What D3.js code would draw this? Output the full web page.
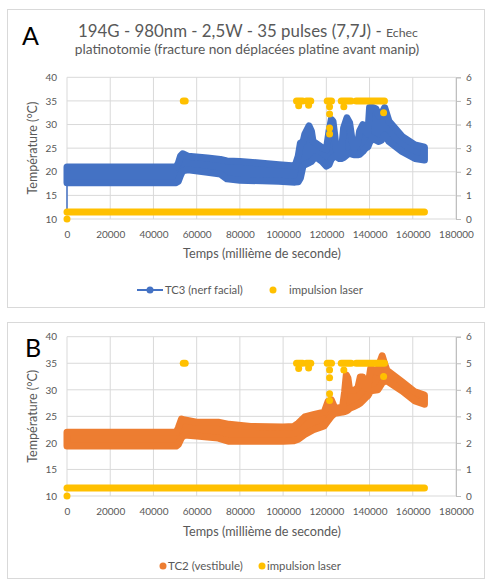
<!DOCTYPE html>
<html><head><meta charset="utf-8">
<script src="https://cdn.jsdelivr.net/npm/d3@7"></script>
<style>body{margin:0;background:#fff} text{font-family:Lato,'Open Sans',sans-serif}</style>
</head><body>
<svg id="c" width="486" height="581"></svg>
<script>
// ---------- data ----------
const xTicks = [0,20000,40000,60000,80000,100000,120000,140000,160000,180000];
const yTicks = [10,15,20,25,30,35,40];
const y2Ticks = [0,1,2,3,4,5,6];

const tc3Time = [0,50500,51500,52500,53500,56000,65000,71000,74000,80000,98000,105500,107000,108000,109200,110000,112000,113100,113850,115000,118000,120000,121230,122300,123080,123850,124600,126000,127000,128000,129540,130770,132000,133080,134500,135400,136900,138150,139230,140000,141500,143000,144300,145500,147000,149000,155000,161000,165400];
const tc3Lo = [17.7,17.7,18.0,19.2,20.2,20.4,19.9,19.5,18.5,18.2,18.0,17.8,17.9,18.7,21.2,21.5,21.9,22.2,22.6,23.2,22.2,21.2,21.5,22.7,23.0,23.3,23.2,22.8,22.8,23.0,23.6,23.9,23.7,23.6,23.6,23.7,24.3,25.0,25.3,26.2,27.1,26.7,26.4,26.7,27.8,26.4,24.3,22.8,22.5];
const tc3Hi = [21.0,21.0,21.8,23.3,23.8,23.3,22.9,22.6,22.3,22.2,21.5,21.2,23.3,26.1,26.3,27.9,29.7,28.6,26.4,26.1,25.1,24.7,28.6,31.1,30.7,27.9,24.7,24.0,24.5,29.3,31.4,30.4,26.4,25.0,26.0,28.6,30.0,28.6,28.0,33.6,33.6,33.3,31.8,32.2,33.6,30.7,27.5,25.7,25.2];
const tc3Start = 11.3;

const tc2Time = [0,50500,51500,53000,54500,60000,70000,75000,85000,100000,105000,107000,110000,114000,119000,120800,122300,124000,127500,128460,129230,130000,130770,133000,134600,135700,136900,138150,139200,140500,143800,144600,145850,146900,148000,155000,161000,165400];
const tc2Lo = [19.4,19.4,19.7,21.0,21.5,21.3,20.9,20.3,20.3,20.3,20.4,20.7,21.6,22.5,23.2,24.2,25.0,25.6,25.8,25.9,26.0,26.2,26.5,26.9,27.2,27.5,28.0,28.5,28.9,29.8,30.0,30.5,31.3,31.6,31.7,29.8,27.9,27.3];
const tc2Hi = [22.0,22.0,22.8,24.5,24.3,23.9,23.9,23.5,23.1,23.0,23.1,23.7,24.9,25.3,25.8,27.8,28.1,26.5,26.7,29.6,32.8,32.2,29.9,29.9,30.4,32.4,32.4,30.4,30.5,34.0,33.4,35.0,36.4,35.0,33.7,31.5,29.6,29.0];

// laser pulses (secondary axis): continuous runs of points and isolated points
const laserRunStart = [0,53800,106200,110800,120400,126900,133800];
const laserRunEnd   = [165400,54700,109000,112800,122400,131500,146900];
const laserRunValue = [0.3,5,5,5,5,5,5];
const laserTime  = [0,107200,111800,121500,121500,121500,121500,128100,146500];
const laserValue = [0,4.8,4.82,4.75,4.45,3.85,3.6,4.75,4.5];

const titleMain = "194G - 980nm - 2,5W - 35 pulses (7,7J) - ";
const titleSmall = "Echec";
const titleLine2 = "platinotomie (fracture non déplacées platine avant manip)";
const xTitle = "Temps (millième de seconde)";
const yTitle = "Température (°C)";

// ---------- drawing ----------
const svg = d3.select("#c");
const GRID = "#d9d9d9", TXT = "#595959";
const BLUE = "#4472C4", ORANGE = "#ED7D31", YEL = "#FFC000";
const R = 3.5;

svg.append("rect").attr("width",486).attr("height",581).attr("fill","#fff");

function fit(sel, w){
  const cur = sel.node().getComputedTextLength();
  const fs = parseFloat(sel.attr("font-size"));
  sel.attr("font-size", fs * w / cur);
}

function panel(o){
  svg.append("rect").attr("x",7.5).attr("y",o.boxTop+0.5).attr("width",477).attr("height",o.boxH)
    .attr("fill","#fff").attr("stroke",GRID);
  const x = d3.scaleLinear().domain([0,180000]).range([67,456]);
  const y = d3.scaleLinear().domain([10,40]).range([o.bottom,o.top]);
  const y2 = d3.scaleLinear().domain([0,6]).range([o.bottom,o.top]);
  const g = svg.append("g");
  // grid
  g.selectAll(".hg").data(yTicks).join("line")
    .attr("x1",x(0)).attr("x2",x(180000)).attr("y1",d=>y(d)).attr("y2",d=>y(d))
    .attr("stroke",GRID).attr("stroke-width",1);
  g.selectAll(".vg").data(xTicks).join("line")
    .attr("y1",y(10)).attr("y2",y(40)).attr("x1",d=>x(d)).attr("x2",d=>x(d))
    .attr("stroke",GRID).attr("stroke-width",1);
  // axes
  const ax = d3.axisBottom(x).tickValues(xTicks).tickSize(0).tickPadding(12).tickFormat(d3.format("d"));
  const gx = g.append("g").attr("transform",`translate(0,${y(10)})`).call(ax);
  const ayl = d3.axisLeft(y).tickValues(yTicks).tickSize(0).tickPadding(10).tickFormat(d3.format("d"));
  const gyl = g.append("g").attr("transform",`translate(${x(0)},0)`).call(ayl);
  const ayr = d3.axisRight(y2).tickValues(y2Ticks).tickSize(5).tickPadding(5).tickFormat(d3.format("d"));
  const gyr = g.append("g").attr("transform",`translate(${x(180000)},0)`).call(ayr);
  [gx,gyl,gyr].forEach(a=>{
    a.select(".domain").attr("stroke", a===gyr ? "#bfbfbf" : "none");
    a.selectAll(".tick line").attr("stroke","#bfbfbf");
    a.selectAll("text").attr("fill",TXT).attr("font-size",10).attr("font-family","Lato");
  });
  // axis titles
  const xt = svg.append("text").attr("x",262).attr("y",o.xTitleY).attr("text-anchor","middle")
    .attr("fill",TXT).attr("font-size",11).text(xTitle);
  fit(xt,158);
  const yt = svg.append("text").attr("transform",`translate(37,${(o.top+o.bottom)/2}) rotate(-90)`)
    .attr("text-anchor","middle").attr("fill",TXT).attr("font-size",11).text(yTitle);
  fit(yt,93);

  // series band
  const area = d3.area().x(d=>x(d.t)).y0(d=>y(d.lo)).y1(d=>y(d.hi)).curve(d3.curveLinear);
  const data = o.time.map((t,i)=>({t,lo:o.lo[i],hi:o.hi[i]}));
  if(o.start!==undefined){
    g.append("line").attr("x1",x(0)).attr("x2",x(0)).attr("y1",y(o.start)).attr("y2",y(o.lo[0]))
      .attr("stroke",o.color).attr("stroke-width",1.5);
  }
  g.append("path").datum(data).attr("d",area).attr("fill",o.color)
    .attr("stroke",o.color).attr("stroke-width",2*R).attr("stroke-linejoin","round");

  // laser
  g.selectAll(".run").data(laserRunStart.map((s,i)=>({s,e:laserRunEnd[i],v:laserRunValue[i]}))).join("line")
    .attr("x1",d=>x(d.s)).attr("x2",d=>x(d.e)).attr("y1",d=>y2(d.v)).attr("y2",d=>y2(d.v))
    .attr("stroke",YEL).attr("stroke-width",2*R).attr("stroke-linecap","round");
  g.selectAll(".pt").data(laserTime.map((t,i)=>({t,v:laserValue[i]}))).join("circle")
    .attr("cx",d=>x(d.t)).attr("cy",d=>y2(d.v)).attr("r",R).attr("fill",YEL);

  // legend
  const ly = o.legendY;
  if(o.legendLine){
    svg.append("line").attr("x1",o.legX1-13).attr("x2",o.legX1+13).attr("y1",ly).attr("y2",ly)
      .attr("stroke",o.color).attr("stroke-width",2);
  }
  svg.append("circle").attr("cx",o.legX1).attr("cy",ly).attr("r",R).attr("fill",o.color);
  const l1 = svg.append("text").attr("x",o.legT1).attr("y",ly+3.5).attr("fill",TXT).attr("font-size",10.5).text(o.name);
  fit(l1,o.legW1);
  svg.append("circle").attr("cx",o.legX2).attr("cy",ly).attr("r",R).attr("fill",YEL);
  const l2 = svg.append("text").attr("x",o.legT2).attr("y",ly+3.5).attr("fill",TXT).attr("font-size",10.5).text("impulsion laser");
  fit(l2,o.legW2);

  // panel letter
  svg.append("text").attr("x",o.letterX).attr("y",o.letterY).attr("font-size",25)
    .attr("fill","#000").attr("font-family","'Liberation Sans',Arial,sans-serif").text(o.letter);
}

panel({boxTop:9,boxH:298,top:77.3,bottom:219,xTitleY:258,legendY:290,
  time:tc3Time,lo:tc3Lo,hi:tc3Hi,start:tc3Start,color:BLUE,name:"TC3 (nerf facial)",legendLine:true,
  legX1:150,legT1:165,legW1:78,legX2:273,legT2:289,legW2:74,letter:"A",letterX:22,letterY:45});
panel({boxTop:322,boxH:256,top:336.7,bottom:496,xTitleY:535.5,legendY:566,
  time:tc2Time,lo:tc2Lo,hi:tc2Hi,color:ORANGE,name:"TC2 (vestibule)",legendLine:false,
  legX1:163,legT1:168,legW1:75,legX2:262,legT2:267,legW2:74,letter:"B",letterX:25,letterY:357});

// title
const t1 = svg.append("text").attr("x",248).attr("y",37).attr("text-anchor","middle")
  .attr("fill",TXT).attr("font-size",15);
t1.append("tspan").text(titleMain);
t1.append("tspan").attr("font-size",11).text(titleSmall);
{
  const cur = t1.node().getComputedTextLength();
  const k = 340/cur;
  t1.attr("font-size",15*k); t1.select("tspan:last-child").attr("font-size",11*k);
}
const t2 = svg.append("text").attr("x",247).attr("y",54).attr("text-anchor","middle")
  .attr("fill",TXT).attr("font-size",12).text(titleLine2);
fit(t2,345);
</script>
</body></html>
